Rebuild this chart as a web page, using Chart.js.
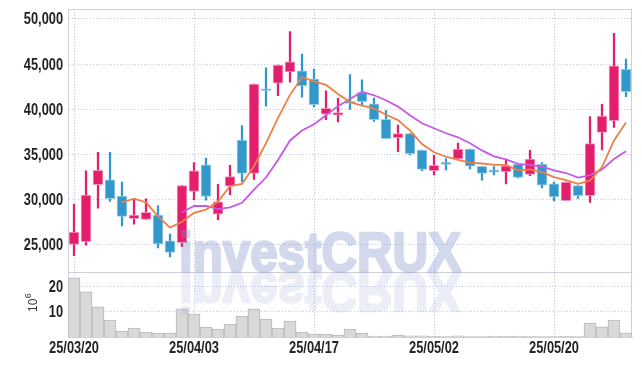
<!DOCTYPE html>
<html>
<head>
<meta charset="utf-8">
<script src="https://cdn.jsdelivr.net/npm/chart.js@4.4.1/dist/chart.umd.min.js"></script>
<style>
  html, body { margin: 0; padding: 0; background: #fff; }
  #wrap { width: 642px; height: 366px; }
</style>
</head>
<body>
<div id="wrap"><canvas id="chart"></canvas></div>
<script>
// trading days (yy/mm/dd)
const dates = [
  '25/03/20', '25/03/21', '25/03/24', '25/03/25', '25/03/26', '25/03/27', '25/03/28', '25/03/31',
  '25/04/01', '25/04/02', '25/04/03', '25/04/04', '25/04/07', '25/04/08', '25/04/09', '25/04/10',
  '25/04/11', '25/04/14', '25/04/15', '25/04/16', '25/04/17', '25/04/18', '25/04/21', '25/04/22',
  '25/04/23', '25/04/24', '25/04/25', '25/04/28', '25/04/29', '25/04/30', '25/05/02', '25/05/07',
  '25/05/08', '25/05/09', '25/05/12', '25/05/13', '25/05/14', '25/05/15', '25/05/16', '25/05/19',
  '25/05/20', '25/05/21', '25/05/22', '25/05/23', '25/05/26', '25/05/27', '25/05/28'
];
const tickDates = ['25/03/20', '25/04/03', '25/04/17', '25/05/02', '25/05/20'];
const priceTicks = [25000, 30000, 35000, 40000, 45000, 50000];
const volumeTicks = [10, 20];

// OHLC
const open = [
  25050, 25350, 31650, 32200, 30400, 27900, 27800, 28300, 25450, 25250,
  30900, 33850, 28400, 31500, 36600, 32900, 42150, 42900, 44150, 44250,
  43350, 39450, 39350, 40750, 41850, 40600, 38900, 36850, 37300, 35500,
  33200, 34000, 34500, 35600, 33700, 33300, 33100, 33900, 32800, 33950,
  31750, 29900, 31550, 30450, 37450, 38750, 44450
];
const high = [
  29500, 33200, 35250, 35250, 31950, 30100, 30100, 29350, 26200, 31550,
  34100, 34600, 31700, 33800, 38200, 42800, 44600, 44900, 48600, 46100,
  44450, 42050, 41200, 43850, 43250, 41250, 39850, 38250, 37300, 35500,
  34900, 34550, 36250, 35600, 33700, 33650, 34350, 33900, 35450, 34100,
  31950, 31950, 31550, 39200, 40550, 48400, 45550
];
const low = [
  23800, 24950, 29050, 29800, 27100, 27300, 27800, 24650, 23650, 24800,
  30000, 29950, 27750, 30550, 31950, 32250, 40350, 41500, 43000, 41350,
  40250, 38850, 38600, 40000, 40400, 38650, 36750, 35300, 34950, 33200,
  32750, 33300, 34500, 33400, 32150, 32750, 31750, 32400, 32650, 31300,
  29850, 29900, 30150, 29700, 35500, 38000, 41400
];
const close = [
  26400, 30500, 33250, 30100, 28150, 28300, 28600, 25100, 24150, 31550,
  33200, 30350, 29750, 32550, 32900, 42800, 42050, 44900, 45250, 42600,
  40500, 40100, 39650, 40650, 40850, 38850, 36750, 37300, 35100, 33350,
  33800, 33900, 35600, 33700, 32900, 33050, 33750, 32450, 34500, 31600,
  30300, 31950, 30450, 36200, 39250, 44800, 41950
];

// moving averages as drawn
const ma5 = [
  null, null, null, null, 29700, 30100, 29700, 28150, 26900, 27550,
  28550, 28900, 29800, 31500, 31750, 33700, 36250, 39050, 41600, 43550,
  43100, 42700, 41700, 40800, 40400, 40100, 39400, 38800, 37650, 36150,
  35250, 34750, 34400, 34100, 34000, 33850, 33850, 33250, 33350, 33050,
  32500, 32150, 31750, 32100, 33600, 36550, 38550
];
const ma10 = [
  null, null, null, null, null, null, null, null, null, 28600,
  29300, 29300, 28950, 29150, 29650, 31100, 32450, 34400, 36550, 37650,
  38350, 39350, 40350, 41150, 41950, 41550, 41000, 40300, 39350, 38450,
  37900, 37350, 36900, 36250, 35450, 34800, 34450, 33950, 33850, 33650,
  33250, 32950, 32450, 32700, 33350, 34500, 35350
];

// volume, millions of shares
const volume = [
  23.6, 18.0, 12.0, 6.8, 2.4, 3.6, 2.0, 1.6, 1.6, 11.2,
  9.2, 4.0, 3.2, 5.2, 8.4, 11.2, 7.2, 3.6, 6.4, 2.0,
  1.2, 1.2, 0.8, 3.2, 1.6, 0.4, 0.4, 0.8, 0.5, 0.5,
  0.3, 0.2, 0.5, 0.2, 0.2, 0.4, 0.3, 0.4, 0.2, 0.2,
  0.2, 0.3, 0.2, 5.6, 4.1, 6.8, 1.7
];

const UP = '#e31e6c';
const DOWN = '#3297c9';
const UP_EDGE = 'rgba(240,150,190,0.9)';
const DOWN_EDGE = 'rgba(150,200,230,0.9)';
const GRID = '#c2c8de';
const FRAME = '#cfd0d6';
const LABEL_FONT = "bold 16px 'Liberation Sans', sans-serif";

const isUp = close.map((c, i) => c >= open[i]);

// frame lines: top, right, panel separator
const framePlugin = {
  id: 'frame',
  beforeDatasetsDraw(chart) {
    const { ctx, chartArea } = chart;
    const sep = chart.scales.y.bottom;
    ctx.save();
    ctx.strokeStyle = FRAME;
    ctx.lineWidth = 1;
    ctx.beginPath();
    ctx.moveTo(chartArea.left, chartArea.top + 0.5);
    ctx.lineTo(chartArea.right, chartArea.top + 0.5);
    ctx.moveTo(chartArea.right - 0.5, chartArea.top);
    ctx.lineTo(chartArea.right - 0.5, chartArea.bottom);
    ctx.moveTo(chartArea.left, Math.round(sep) + 0.5);
    ctx.lineTo(chartArea.right, Math.round(sep) + 0.5);
    ctx.stroke();
    ctx.restore();
  }
};

// watermark with reflection, drawn opaque offscreen then blended
function watermarkLayer(w, h, base, flip) {
  const c = document.createElement('canvas');
  c.width = w;
  c.height = h;
  const g = c.getContext('2d');
  const text = 'investCRUX';
  g.font = "bold 56px 'Liberation Sans', sans-serif";
  const tw = g.measureText(text).width;
  g.translate(179, base);
  g.scale(282 / tw, flip ? -1 : 1);
  g.fillStyle = 'rgb(120,140,200)';
  g.strokeStyle = 'rgb(120,140,200)';
  g.lineWidth = 2.5;
  g.lineJoin = 'round';
  g.fillText(text, 0, 0);
  g.strokeText(text, 0, 0);
  return c;
}

const watermarkPlugin = {
  id: 'watermark',
  afterDatasetsDraw(chart) {
    const { ctx, width, height } = chart;
    const base = Math.round(chart.scales.y.bottom);
    ctx.save();
    ctx.globalAlpha = 0.33;
    ctx.drawImage(watermarkLayer(width, height, base - 1, false), 0, 0, width, height);
    ctx.globalAlpha = 0.15;
    ctx.drawImage(watermarkLayer(width, height, base + 1, true), 0, 0, width, height);
    ctx.restore();
  }
};

// narrow tick labels and the 10^6 unit label
function narrowText(ctx, text, x, y, align) {
  ctx.save();
  ctx.translate(x, y);
  ctx.scale(0.8, 1);
  ctx.textAlign = align;
  ctx.fillText(text, 0, 0);
  ctx.restore();
}

const labelPlugin = {
  id: 'labels',
  afterDraw(chart) {
    const { ctx } = chart;
    const { x, y, yv } = chart.scales;
    ctx.save();
    ctx.fillStyle = '#222';
    ctx.font = LABEL_FONT;
    ctx.textBaseline = 'middle';
    priceTicks.forEach(v => narrowText(ctx, v.toLocaleString('en-US'), y.right - 5, y.getPixelForValue(v) + 1, 'right'));
    volumeTicks.forEach(v => narrowText(ctx, String(v), yv.right - 5, yv.getPixelForValue(v) + 1, 'right'));
    dates.forEach((d, i) => {
      if (tickDates.includes(d)) narrowText(ctx, d, x.getPixelForTick(i), 349, 'center');
    });
    // unit of the volume panel
    ctx.translate(33, 312);
    ctx.rotate(-Math.PI / 2);
    ctx.fillStyle = '#333';
    ctx.textAlign = 'left';
    ctx.textBaseline = 'middle';
    ctx.font = "12px 'Liberation Sans', sans-serif";
    ctx.fillText('10', 0, 1);
    const w = ctx.measureText('10').width;
    ctx.font = "9px 'Liberation Sans', sans-serif";
    ctx.fillText('6', w + 0.5, -4);
    ctx.restore();
  }
};

new Chart(document.getElementById('chart'), {
  type: 'bar',
  data: {
    labels: dates,
    datasets: [
      {
        type: 'line',
        label: 'MA5',
        data: ma5,
        yAxisID: 'y',
        borderColor: '#ef7f45',
        borderWidth: 1.8,
        pointRadius: 0,
        tension: 0,
        order: 1
      },
      {
        type: 'line',
        label: 'MA10',
        data: ma10,
        yAxisID: 'y',
        borderColor: '#c659e6',
        borderWidth: 1.8,
        pointRadius: 0,
        tension: 0,
        order: 2
      },
      {
        label: 'body',
        data: open.map((o, i) => [o, close[i]]),
        yAxisID: 'y',
        grouped: false,
        barThickness: 10,
        minBarLength: 2,
        backgroundColor: isUp.map(u => u ? UP : DOWN),
        borderColor: isUp.map(u => u ? UP_EDGE : DOWN_EDGE),
        borderWidth: 1,
        borderSkipped: false,
        order: 3
      },
      {
        label: 'wick',
        data: low.map((l, i) => [l, high[i]]),
        yAxisID: 'y',
        grouped: false,
        barThickness: 1.6,
        backgroundColor: isUp.map(u => u ? UP : DOWN),
        order: 4
      },
      {
        label: 'volume',
        data: volume,
        yAxisID: 'yv',
        grouped: false,
        barPercentage: 1,
        categoryPercentage: 1,
        backgroundColor: '#d9d9d9',
        borderColor: '#b8b8b8',
        borderWidth: 1,
        order: 5
      }
    ]
  },
  options: {
    responsive: true,
    maintainAspectRatio: false,
    animation: false,
    events: [],
    layout: { padding: { left: 0, right: 10, top: 9, bottom: 0 } },
    plugins: {
      legend: { display: false },
      tooltip: { enabled: false }
    },
    scales: {
      x: {
        type: 'category',
        offset: true,
        grid: {
          offset: false,
          drawTicks: false,
          tickLength: 0,
          color: ctx => tickDates.includes(dates[ctx.index]) ? GRID : 'transparent'
        },
        border: { color: FRAME, dash: [1, 2] },
        ticks: { display: false, autoSkip: false },
        afterFit: s => { s.height = 29; }
      },
      y: {
        position: 'left',
        stack: 'panels',
        stackWeight: 4.077,
        weight: 1,
        min: 21950,
        max: 51100,
        afterBuildTicks: s => { s.ticks = priceTicks.map(v => ({ value: v })); },
        grid: { color: GRID, drawTicks: false, tickLength: 0 },
        border: { color: FRAME, dash: [1, 2] },
        ticks: { display: false },
        afterFit: s => { s.width = 68; }
      },
      yv: {
        position: 'left',
        stack: 'panels',
        stackWeight: 1,
        weight: 0,
        min: 0,
        max: 25.8,
        afterBuildTicks: s => { s.ticks = volumeTicks.map(v => ({ value: v })); },
        grid: { color: GRID, drawTicks: false, tickLength: 0 },
        border: { color: FRAME, dash: [1, 2] },
        ticks: { display: false },
        afterFit: s => { s.width = 68; }
      }
    }
  },
  plugins: [framePlugin, watermarkPlugin, labelPlugin]
});
</script>
</body>
</html>
